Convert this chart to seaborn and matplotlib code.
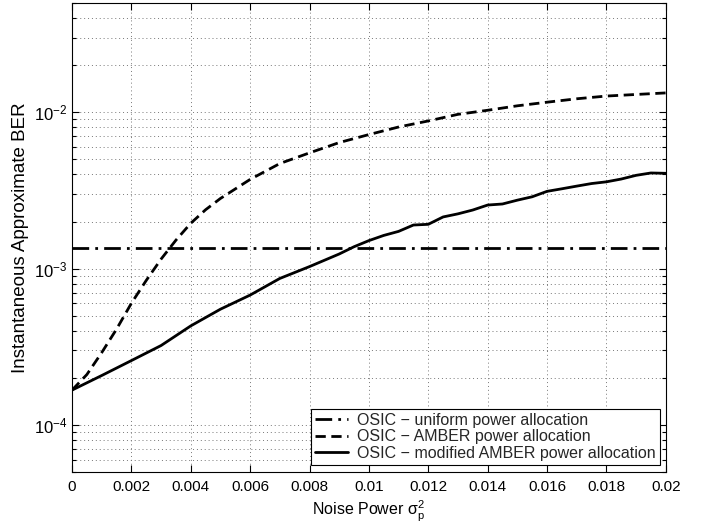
import matplotlib
matplotlib.use("Agg")
import matplotlib.pyplot as plt
import matplotlib.ticker as mticker
import seaborn as sns
import numpy as np
import pandas as pd

# ---- data ----
x_uniform = [0.0, 0.02]
ber_uniform = [1.36e-3, 1.36e-3]

x_amber = [0, 0.0005, 0.001, 0.0015, 0.002, 0.0025, 0.003, 0.0035, 0.004, 0.0045,
           0.005, 0.006, 0.007, 0.008, 0.009, 0.010, 0.011, 0.012, 0.013, 0.014,
           0.015, 0.016, 0.017, 0.018, 0.019, 0.020]
ber_amber = [1.67e-4, 2.1e-4, 2.9e-4, 4.1e-4, 6.0e-4, 8.4e-4, 1.15e-3, 1.52e-3, 1.95e-3, 2.38e-3,
             2.81e-3, 3.72e-3, 4.7e-3, 5.5e-3, 6.4e-3, 7.2e-3, 8.05e-3, 8.8e-3, 9.7e-3, 1.03e-2,
             1.1e-2, 1.16e-2, 1.22e-2, 1.27e-2, 1.30e-2, 1.33e-2]

x_mod = [0, 0.001, 0.002, 0.003, 0.004, 0.005, 0.006, 0.007, 0.008, 0.009, 0.0095,
         0.010, 0.0105, 0.011, 0.0115, 0.012, 0.0125, 0.013, 0.0135, 0.014, 0.0145,
         0.015, 0.0155, 0.016, 0.0165, 0.017, 0.0175, 0.018, 0.0185, 0.019, 0.0195, 0.020]
ber_mod = [1.67e-4, 2.07e-4, 2.58e-4, 3.22e-4, 4.3e-4, 5.5e-4, 6.77e-4, 8.65e-4, 1.03e-3, 1.24e-3, 1.38e-3,
           1.51e-3, 1.63e-3, 1.73e-3, 1.9e-3, 1.92e-3, 2.14e-3, 2.24e-3, 2.37e-3, 2.55e-3, 2.59e-3,
           2.74e-3, 2.88e-3, 3.12e-3, 3.24e-3, 3.37e-3, 3.5e-3, 3.59e-3, 3.74e-3, 3.95e-3, 4.09e-3, 4.07e-3]

labels = ["OSIC \u2212 uniform power allocation",
          "OSIC \u2212 AMBER power allocation",
          "OSIC \u2212 modified AMBER power allocation"]
x_ticks = [0, 0.002, 0.004, 0.006, 0.008, 0.01, 0.012, 0.014, 0.016, 0.018, 0.02]
x_ticklabels = ["0", "0.002", "0.004", "0.006", "0.008", "0.01", "0.012", "0.014", "0.016", "0.018", "0.02"]

sns.set_theme(style="white")
plt.rcParams['font.family'] = ['Liberation Sans', 'DejaVu Sans']
plt.rcParams['mathtext.fontset'] = 'custom'
plt.rcParams['mathtext.rm'] = 'Liberation Sans'
plt.rcParams['mathtext.it'] = 'Liberation Sans:italic'

fig = plt.figure(figsize=(7.06, 5.29), dpi=100)
ax = fig.add_axes([0.102, 0.1078, 0.841, 0.8865])

df_u = pd.DataFrame({"x": x_uniform, "y": ber_uniform})
df_a = pd.DataFrame({"x": x_amber, "y": ber_amber})
df_m = pd.DataFrame({"x": x_mod, "y": ber_mod})

sns.lineplot(data=df_u, x="x", y="y", ax=ax, color="black", linewidth=2.0,
             linestyle=(0, (6.0, 2.2, 1.0, 2.2)), label=labels[0])
sns.lineplot(data=df_a, x="x", y="y", ax=ax, color="black", linewidth=2.0,
             linestyle=(0, (3.7, 2.0)), label=labels[1])
sns.lineplot(data=df_m, x="x", y="y", ax=ax, color="black", linewidth=2.0,
             linestyle="-", label=labels[2])

ax.set_yscale("log")
ax.set_xlim(0, 0.02)
ax.set_ylim(5e-5, 5e-2)
ax.set_xticks(x_ticks)
ax.set_xticklabels(x_ticklabels)
ax.yaxis.set_major_locator(mticker.LogLocator(base=10, numticks=10))
ax.yaxis.set_minor_locator(mticker.LogLocator(base=10, subs=np.arange(2, 10), numticks=20))
ax.yaxis.set_minor_formatter(mticker.NullFormatter())

ax.grid(True, which="major", linestyle=(0, (1, 3)), color="#777777", linewidth=0.7)
ax.grid(True, which="minor", axis="y", linestyle=(0, (1, 3)), color="#777777", linewidth=0.7)

ax.tick_params(which="both", direction="in", top=True, right=True, left=True, bottom=True,
               labelsize=11, colors="black")
ax.tick_params(axis="y", labelsize=12)
ax.tick_params(which="major", length=5, width=0.8)
ax.tick_params(which="minor", length=3, width=0.8)
ax.tick_params(axis="x", pad=6)
for s in ax.spines.values():
    s.set_color("black")
    s.set_linewidth(0.8)

ax.set_xlabel("Noise Power $\\mathrm{\\sigma_p^2}$", fontsize=11.5, color="black", labelpad=3)
ax.set_ylabel("Instantaneous Approximate BER", fontsize=13.5, color="black", labelpad=3)

leg = ax.legend(loc="lower right", bbox_to_anchor=(0.99, 0.015), fontsize=11.5,
                frameon=True, fancybox=False, edgecolor="black", framealpha=1,
                handlelength=2.1, borderpad=0.25, labelspacing=0.1, handletextpad=0.55,
                borderaxespad=0)
leg.get_frame().set_linewidth(0.8)

fig.savefig("out.png", dpi=100)
